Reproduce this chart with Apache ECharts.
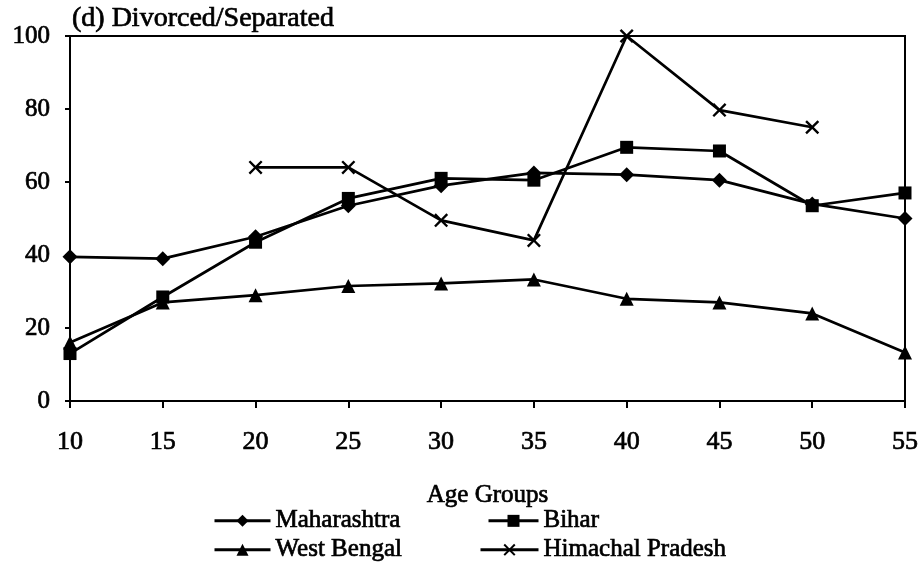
<!DOCTYPE html>
<html>
<head>
<meta charset="utf-8">
<script src="https://cdn.jsdelivr.net/npm/echarts@6/dist/echarts.min.js"></script>
<style>
  html, body { margin: 0; padding: 0; background: #fff; }
  #chart { width: 923px; height: 570px; }
</style>
</head>
<body>
<div id="chart"></div>
<script>
// age group categories
var ageGroups = ['10', '15', '20', '25', '30', '35', '40', '45', '50', '55'];

// series values
var maharashtra = [39.5, 39, 45, 53.5, 59, 62.5, 62, 60.5, 54, 50];
var bihar = [13, 28.5, 43.5, 55.5, 61, 60.5, 69.5, 68.5, 53.5, 57];
var westBengal = [16, 27, 29, 31.5, 32.2, 33.3, 28, 27, 24, 13.3];
var himachal = [null, null, 64, 64, 49.5, 44, 100, 79.7, 75, null];

var font = 'Liberation Serif';
var crossPath = 'path://M0,1.2 L1.2,0 L5,3.8 L8.8,0 L10,1.2 L6.2,5 L10,8.8 L8.8,10 L5,6.2 L1.2,10 L0,8.8 L3.8,5 Z';

// slightly heavier than regular, like the scanned text
function txt(size) {
  return { fontFamily: font, fontSize: size, color: '#000', textBorderColor: '#000', textBorderWidth: 0.7 };
}

var chart = echarts.init(document.getElementById('chart'));

function mkSeries(name, data, symbol, size) {
  return {
    name: name,
    type: 'line',
    data: data,
    symbol: symbol,
    symbolSize: size,
    showSymbol: true,
    connectNulls: false,
    lineStyle: { color: '#000', width: 2.7 },
    itemStyle: { color: '#000' },
    emphasis: { disabled: true }
  };
}

function mkLegend(name, left, top, w) {
  return {
    data: [name],
    left: left,
    top: top,
    padding: 0,
    itemWidth: w,
    itemHeight: 15,
    itemGap: 0,
    lineStyle: { width: 3 },
    textStyle: txt(25),
    selectedMode: false
  };
}

var option = {
  backgroundColor: '#fff',
  animation: false,
  title: {
    text: '(d) Divorced/Separated',
    left: 67,
    top: 0,
    textStyle: Object.assign(txt(28), { fontWeight: 'normal' })
  },
  legend: [
    mkLegend('Maharashtra', 213, 508, 56),
    mkLegend('Bihar', 487, 508, 50),
    mkLegend('West Bengal', 213, 537, 56),
    mkLegend('Himachal Pradesh', 479, 537, 58)
  ],
  grid: {
    left: 70, right: 18, top: 36, bottom: 169,
    show: true, borderColor: '#000', borderWidth: 2, backgroundColor: 'transparent'
  },
  xAxis: {
    type: 'category',
    data: ageGroups,
    boundaryGap: false,
    name: 'Age Groups',
    nameLocation: 'middle',
    nameGap: 82,
    nameTextStyle: txt(25),
    axisLine: { lineStyle: { color: '#000', width: 2 } },
    axisTick: { show: true, length: 7, lineStyle: { color: '#000', width: 2 } },
    axisLabel: Object.assign(txt(26), { margin: 28 }),
    splitLine: { show: false }
  },
  yAxis: {
    type: 'value',
    min: 0,
    max: 100,
    interval: 20,
    axisLine: { show: true, lineStyle: { color: '#000', width: 2 } },
    axisTick: { show: true, length: 5, lineStyle: { color: '#000', width: 2 } },
    axisLabel: Object.assign(txt(25), { margin: 20 }),
    splitLine: { show: false }
  },
  series: [
    mkSeries('Maharashtra', maharashtra, 'diamond', 15),
    mkSeries('Bihar', bihar, 'rect', 13),
    mkSeries('West Bengal', westBengal, 'triangle', 14),
    mkSeries('Himachal Pradesh', himachal, crossPath, 14)
  ]
};

chart.setOption(option);
</script>
</body>
</html>
